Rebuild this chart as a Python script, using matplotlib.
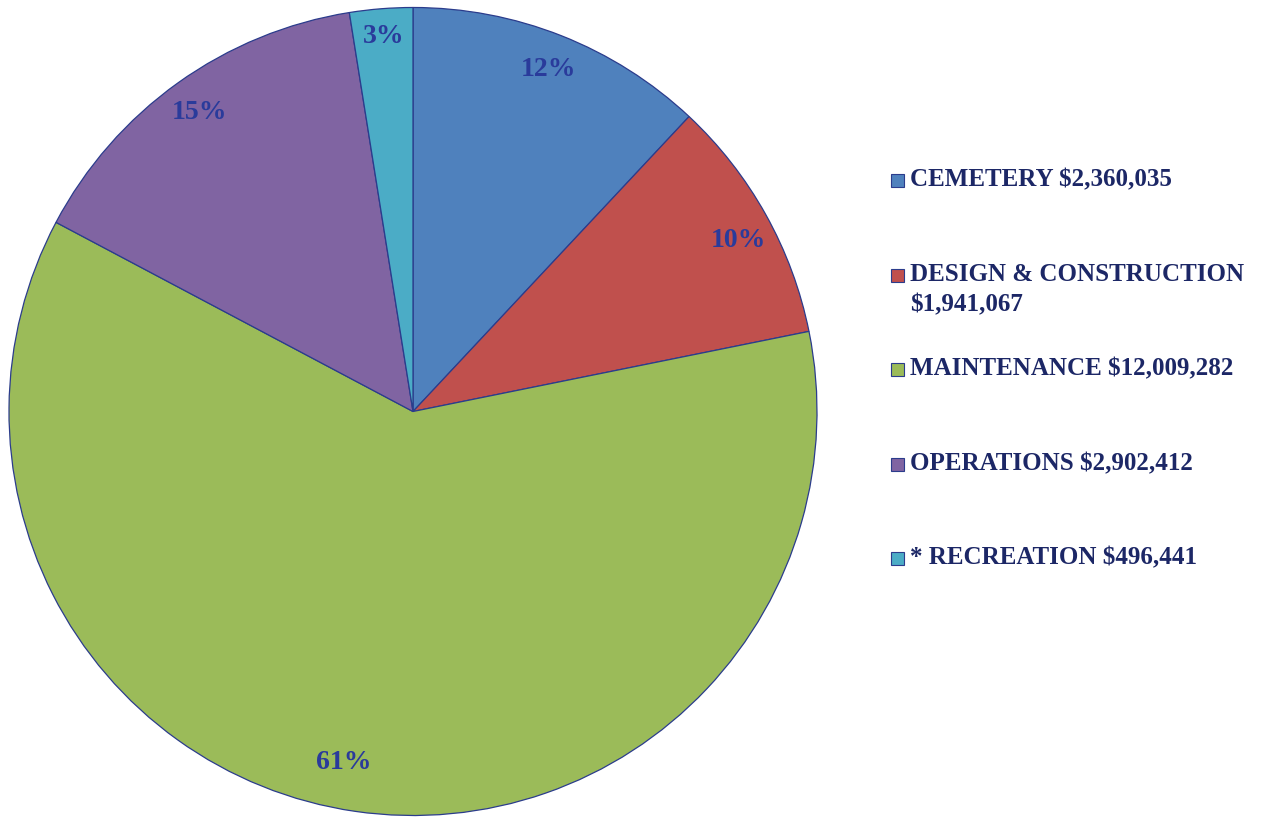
import matplotlib
matplotlib.use("Agg")
import matplotlib.pyplot as plt
from matplotlib.patches import Rectangle
import numpy as np

# budget by division
divisions = ["CEMETERY", "DESIGN & CONSTRUCTION", "MAINTENANCE", "OPERATIONS", "* RECREATION"]
amounts = [2360035, 1941067, 12009282, 2902412, 496441]
amount_labels = ["$2,360,035", "$1,941,067", "$12,009,282", "$2,902,412", "$496,441"]
colors = ["#4F81BD", "#C0504D", "#9BBB59", "#8064A2", "#4BACC6"]

W, H = 1273, 817
fig = plt.figure(figsize=(W / 100, H / 100), dpi=100)

# pie centre ~ (413, 412) px, radius ~ 404 px
cx, cy, r = 413, 411.5, 404
ax = fig.add_axes([(cx - r) / W, (H - cy - r) / H, 2 * r / W, 2 * r / H])

wedges, texts = ax.pie(amounts, colors=colors, startangle=90, counterclock=False,
                       wedgeprops=dict(edgecolor="#2B3C8C", linewidth=0.9),
                       radius=1.0)
ax.set_xlim(-1, 1)
ax.set_ylim(-1, 1)
ax.set_aspect("equal")
ax.axis("off")

# percentage labels, placed roughly like Excel's best-fit labels
total = sum(amounts)
dist = [0.91, 0.91, 0.885, 0.91, 0.93]
nudge = [0, -1.5, -3, 0, 0]   # degrees
for w, a, d, n in zip(wedges, amounts, dist, nudge):
    ang = np.deg2rad((w.theta1 + w.theta2) / 2 + n)
    ax.text(d * np.cos(ang), d * np.sin(ang), f"{round(100 * a / total)}%",
            ha="center", va="center", fontsize=20, color="#2A3B9B",
            family="Liberation Serif", fontweight="bold")

# legend drawn by hand so the wrapped entry overflows like the original
tx = 910 / W
for i, (name, amt, c) in enumerate(zip(divisions, amount_labels, colors)):
    y = 180 + i * 94.5
    fig.patches.append(Rectangle((891 / W, (H - y - 7) / H), 13 / W, 13 / H,
                                 transform=fig.transFigure, facecolor=c,
                                 edgecolor="#2B3C8C", linewidth=0.8))
    if len(name) < 15:
        lines = [f"{name} {amt}"]
    else:
        lines = [name, amt]
    for k, line in enumerate(lines):
        fig.text(tx, (H - y - 30 * k) / H, line, ha="left", va="center",
                 fontsize=18, color="#1C2766", family="Liberation Serif",
                 fontweight="bold")

fig.savefig("out.png", dpi=100)
